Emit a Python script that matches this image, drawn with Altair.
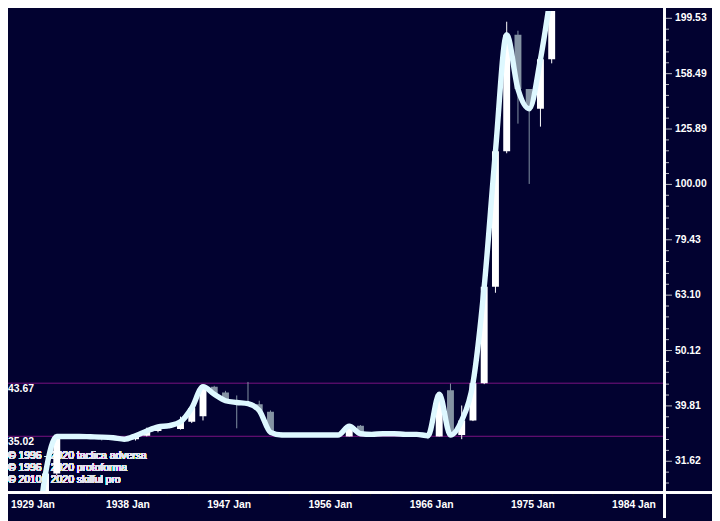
import altair as alt
import pandas as pd

# ---- data (one candle per period) ----
periods = list(range(1932, 1979))
opens = [20.67, 20.67, 30.0, 35.0, 35.0, 35.0, 34.95, 34.9, 34.8, 34.6, 35.1, 35.8, 36.4, 36.1, 37.2,
         38.05, 43.05, 42.0, 40.6, 40.3, 40.0, 38.8, 35.5, 35.2, 35.2, 35.2, 35.2, 35.2, 35.0, 36.6,
         35.3, 35.3, 35.4, 35.4, 35.3, 35.3, 35.0, 42.4, 35.2, 37.4, 43.64, 65.2, 114.5, 186.0, 148.4,
         136.7, 167.9]
highs = [20.67, 30.0, 35.1, 35.1, 35.1, 35.1, 35.0, 34.95, 34.9, 35.2, 36.3, 36.6, 36.7, 38.0, 39.6,
         43.3, 43.2, 42.3, 41.5, 43.9, 40.6, 39.0, 35.6, 35.3, 35.3, 35.3, 35.3, 35.3, 36.6, 36.7,
         35.4, 35.5, 35.5, 35.5, 35.4, 35.4, 41.9, 43.6, 39.8, 43.8, 65.5, 115.0, 196.3, 189.1, 148.4,
         168.5, 243.0]
lows = [20.67, 20.67, 29.8, 34.9, 34.9, 34.8, 34.4, 34.6, 34.4, 34.4, 35.0, 35.6, 36.2, 36.0, 37.0,
        37.4, 41.5, 40.4, 36.2, 40.0, 38.8, 35.3, 35.1, 35.1, 35.1, 35.1, 35.1, 35.1, 35.0, 35.2,
        35.2, 35.2, 35.3, 35.3, 35.2, 34.6, 35.0, 35.0, 34.6, 37.3, 43.5, 63.6, 113.6, 128.5, 100.0,
        126.9, 165.1]
closes = [20.67, 30.0, 35.0, 35.0, 35.0, 34.95, 34.9, 34.8, 34.6, 35.1, 35.8, 36.4, 36.6, 37.2, 39.4,
          43.05, 41.7, 40.6, 40.3, 40.1, 39.0, 35.6, 35.2, 35.2, 35.2, 35.2, 35.2, 35.2, 36.5, 35.4,
          35.3, 35.4, 35.4, 35.3, 35.3, 35.1, 41.7, 35.2, 37.4, 43.64, 65.2, 114.5, 186.0, 148.4, 136.7,
          167.9, 226.0]

levels = [43.67, 35.02]
x_labels = ["1929 Jan", "1938 Jan", "1947 Jan", "1956 Jan", "1966 Jan", "1975 Jan", "1984 Jan"]
copyright_lines = ["\u00a9 1996 - 2020 tactica adversa", "\u00a9 1996 - 2020 protoforma",
                   "\u00a9 2010 - 2020 skilful pro"]

BG = "#020230"
UP = "#ffffff"
DOWN = "#8493a3"
LINE = "#def8ff"
FONT = "Liberation Sans"

df = pd.DataFrame({"t": periods, "open": opens, "high": highs, "low": lows, "close": closes})
lv = pd.DataFrame({"v": levels})

W, H = 664, 487
x_dom = [1930.104, 1987.593]
y_dom = [27.73, 205.35]

# axis tick positions
first_label = 1933.05
step_minor = 1.8
xvals = [round(1931.25 + step_minor * j, 3) for j in range(32)]
arr = "[" + ",".join("'%s'" % s for s in x_labels) + "]"
idx = "round((datum.value - %s)/9)" % first_label
x_label_expr = ("abs((datum.value - %s)/9 - %s) < 0.01 ? %s[%s] : ''" % (first_label, idx, arr, idx))

yvals = [round(10 ** (k / 50), 4) for k in range(73, 116)]
major = "abs(log(datum.value)/LN10*10 - round(log(datum.value)/LN10*10)) < 0.001"

xaxis = alt.Axis(values=xvals, labelExpr=x_label_expr, title=None, domain=False, grid=False,
                 tickColor="#101018", tickSize=3, labelColor="#ffffff", labelFont=FONT,
                 labelFontWeight="bold", labelFontSize=10.5, labelPadding=4,
                 labelBaseline="top",
                 labelAlign={"condition": {"test": "datum.value < 1934", "value": "left"}, "value": "right"},
                 labelOffset={"condition": {"test": "datum.value < 1934", "value": -36}, "value": 2},
                 labelOverlap=False, labelFlush=False)
yaxis = alt.Axis(orient="right", values=yvals, title=None, domain=False, grid=False,
                 labelExpr=major + " ? format(datum.value, '.2f') : ''",
                 tickColor="#b8b8c0",
                 tickSize={"condition": {"test": major, "value": 7}, "value": 4},
                 labelColor="#ffffff", labelFont=FONT, labelFontWeight="bold",
                 labelFontSize=10.5, labelPadding=3, labelOverlap=False)

X = alt.X("t:Q", scale=alt.Scale(domain=x_dom, nice=False, zero=False), axis=xaxis)
ysc = alt.Scale(type="log", domain=y_dom, nice=False)

def Y(f):
    return alt.Y(f, scale=ysc, axis=yaxis)

color = alt.condition("datum.close >= datum.open", alt.value(UP), alt.value(DOWN))

base = alt.Chart(df)

level_rules = alt.Chart(lv).mark_rule(color="#7a1282", strokeWidth=1).encode(y=Y("v:Q"))
level_text = alt.Chart(lv).mark_text(align="left", baseline="middle", dy=6, font=FONT,
                                     fontWeight="bold", fontSize=10.5, color="#ffffff").encode(
    x=alt.value(0), y=Y("v:Q"), text=alt.Text("v:Q", format=".2f"))

copy_layers = [
    alt.Chart(df).mark_text(align="left", baseline="middle", font=FONT, fontSize=10.5,
                            color="#e4e4ee").encode(x=alt.value(0), y=alt.value(450 + 12 * i),
                                                    text=alt.value(s))
    for i, s in enumerate(copyright_lines)
]

wicks = base.mark_rule(strokeWidth=1, clip=True).encode(x=X, y=Y("low:Q"), y2="high:Q", color=color)
bodies = base.mark_bar(size=7, clip=True).encode(x=X, y=Y("open:Q"), y2="close:Q", color=color)
smooth = base.mark_line(interpolate="monotone", strokeWidth=5.5, color=LINE, clip=True,
                        strokeCap="round", strokeJoin="round").encode(x=X, y=Y("close:Q"))

frame_v = alt.Chart(df).mark_rule(color="#ffffff", strokeWidth=1.5).encode(
    x=alt.value(W), y=alt.value(-8), y2=alt.value(H + 26))
frame_h = alt.Chart(df).mark_rule(color="#ffffff", strokeWidth=1.5).encode(
    x=alt.value(-8), x2=alt.value(W + 48), y=alt.value(H))

chart = alt.layer(
    level_rules, level_text, *copy_layers, wicks, bodies, smooth, frame_v, frame_h
).properties(
    width=W, height=H, background=BG,
    padding={"left": 0, "top": 0, "right": 48, "bottom": 26},
    autosize=alt.AutoSizeParams(type="none"),
).configure_view(stroke=None)

chart.save("out.html", embed_options={"renderer": "svg", "actions": False})
